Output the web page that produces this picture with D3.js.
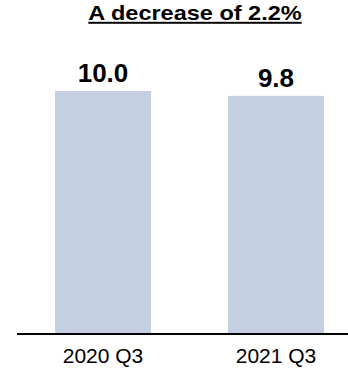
<!DOCTYPE html>
<html>
<head>
<meta charset="utf-8">
<script src="https://cdn.jsdelivr.net/npm/d3@7"></script>
<style>
  html, body { margin: 0; padding: 0; background: #fff; }
  svg { display: block; font-family: "Liberation Sans", Arial, Helvetica, sans-serif; }
</style>
</head>
<body>
<svg id="chart" width="348" height="369"></svg>
<script>
// Quarterly values shown as two bars
const categories = ["2020 Q3", "2021 Q3"];
const values = [10.0, 9.8];
const valueLabels = ["10.0", "9.8"];
const titleText = "A decrease of 2.2%";

const svg = d3.select("#chart");
const baseY = 334;

const x = d3.scaleBand()
  .domain(categories)
  .range([55, 324])
  .paddingInner(0.445)
  .paddingOuter(0);

const y = d3.scaleLinear()
  .domain([0, 10])
  .range([baseY, 91]);

// Title: wide, underlined headline
svg.append("g")
  .attr("transform", "translate(195,20) scale(1.2,1)")
  .append("text")
  .attr("text-anchor", "middle")
  .attr("font-size", 19.6)
  .attr("font-weight", "bold")
  .attr("text-decoration", "underline")
  .attr("fill", "#000")
  .text(titleText);

// Bars
svg.selectAll("rect.bar")
  .data(values)
  .join("rect")
  .attr("class", "bar")
  .attr("x", (d, i) => x(categories[i]))
  .attr("y", d => y(d))
  .attr("width", x.bandwidth())
  .attr("height", d => baseY - y(d))
  .attr("fill", "#c4cfe2");

// Value labels above bars
svg.selectAll("text.value")
  .data(values)
  .join("text")
  .attr("class", "value")
  .attr("x", (d, i) => x(categories[i]) + x.bandwidth() / 2)
  .attr("y", d => y(d) - 9)
  .attr("text-anchor", "middle")
  .attr("font-size", 26)
  .attr("font-weight", "bold")
  .attr("fill", "#000")
  .text((d, i) => valueLabels[i]);

// Category axis
const axis = svg.append("g")
  .attr("transform", `translate(0,${baseY})`)
  .call(d3.axisBottom(x).tickSize(0).tickPadding(14));
axis.select(".domain").remove();
axis.selectAll("text")
  .attr("font-size", 21)
  .attr("fill", "#000")
  .attr("font-family", "Liberation Sans, Arial, sans-serif");

svg.append("line")
  .attr("x1", 17)
  .attr("x2", 348)
  .attr("y1", baseY)
  .attr("y2", baseY)
  .attr("stroke", "#000")
  .attr("stroke-width", 2);
</script>
</body>
</html>
